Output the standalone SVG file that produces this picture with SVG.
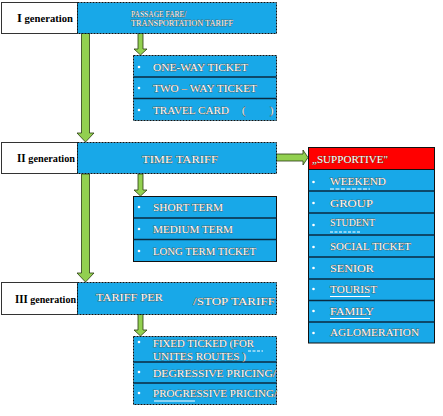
<svg xmlns="http://www.w3.org/2000/svg" width="443" height="416" viewBox="0 0 443 416">
<style>
.gen{fill:#fff;stroke:#333;stroke-width:1}
.blue{fill:#18A8E8;stroke:#111;stroke-width:1;stroke-dasharray:2 1}
.list{fill:#18A8E8;stroke:#111;stroke-width:1}
.div{stroke:#0a2a40;stroke-width:1.5}
.red{fill:#FF0000;stroke:#111;stroke-width:1}
.gt{font-family:"Liberation Serif",serif;font-weight:bold;font-size:11px;fill:#000}
.t{font-family:"Liberation Serif",serif;font-size:10px;fill:#fff;stroke:#5a3a1a;stroke-width:0.5;paint-order:stroke}
.ts{font-family:"Liberation Serif",serif;font-size:7.5px;fill:#fff;stroke:#5a3a1a;stroke-width:0.4;paint-order:stroke}
.b{fill:#fff}
.arr{fill:#92D050;stroke:#2a3a10;stroke-width:0.8}
.ul{stroke:#fff;stroke-width:1}
</style>

<g id="connectors">
  <path class="arr" d="M81.5,33 H89.5 V133 H94 L85.5,142 L77,133 H81.5 Z"/>
  <path class="arr" d="M81.5,174 H89.5 V273 H94 L85.5,282 L77,273 H81.5 Z"/>
  <path class="arr" d="M138,33 H143 V49 H147 L140.5,55 L134,49 H138 Z"/>
  <path class="arr" d="M138,174 H143 V190 H147 L140.5,196 L134,190 H138 Z"/>
  <path class="arr" d="M138,314 H143 V330 H147 L140.5,336 L134,330 H138 Z"/>
  <path class="arr" d="M276,154 H303 V150 L308,157.5 L303,165 V161 H276 Z"/>
</g>

<g id="gen1">
  <rect class="gen" x="1.5" y="2.5" width="76" height="31"/>
  <text class="gt" x="17" y="22" textLength="56" lengthAdjust="spacingAndGlyphs"><tspan font-size="13">I</tspan> generation</text>
</g>
<g id="tariff1">
  <rect class="blue" x="77.5" y="2.5" width="199" height="31"/>
  <text class="ts" x="131" y="17">PASSAGE FARE/</text>
  <text class="ts" x="131" y="26" textLength="102" lengthAdjust="spacingAndGlyphs">TRANSPORTATION TARIFF</text>
</g>
<g id="list1">
  <rect class="blue" x="133.5" y="55.5" width="143" height="65"/>
  <line class="div" x1="133.5" y1="77" x2="276.5" y2="77"/>
  <line class="div" x1="133.5" y1="98.5" x2="276.5" y2="98.5"/>
  <circle class="b" cx="139" cy="67" r="1.3"/>
  <circle class="b" cx="139" cy="88" r="1.3"/>
  <circle class="b" cx="139" cy="110" r="1.3"/>
  <text class="t" x="153" y="71" textLength="95" lengthAdjust="spacingAndGlyphs">ONE-WAY TICKET</text>
  <text class="t" x="153" y="92" textLength="104" lengthAdjust="spacingAndGlyphs">TWO – WAY TICKET</text>
  <text class="t" x="153" y="114" textLength="76" lengthAdjust="spacingAndGlyphs">TRAVEL CARD</text>
  <text class="t" x="242" y="114">(</text>
  <text class="t" x="270" y="114">)</text>
</g>

<g id="gen2">
  <rect class="gen" x="1.5" y="142.5" width="76" height="31"/>
  <text class="gt" x="17" y="162" textLength="58" lengthAdjust="spacingAndGlyphs"><tspan font-size="12">II</tspan> generation</text>
</g>
<g id="tariff2">
  <rect class="blue" x="77.5" y="142.5" width="199" height="31"/>
  <text class="t" x="180" y="163" text-anchor="middle" font-size="11" textLength="76" lengthAdjust="spacingAndGlyphs">TIME TARIFF</text>
</g>
<g id="list2">
  <rect class="list" x="133.5" y="196.5" width="143" height="65"/>
  <line class="div" x1="133.5" y1="218" x2="276.5" y2="218"/>
  <line class="div" x1="133.5" y1="239.5" x2="276.5" y2="239.5"/>
  <circle class="b" cx="139" cy="207" r="1.3"/>
  <circle class="b" cx="139" cy="229" r="1.3"/>
  <circle class="b" cx="139" cy="251" r="1.3"/>
  <text class="t" x="153" y="211" textLength="70" lengthAdjust="spacingAndGlyphs">SHORT TERM</text>
  <text class="t" x="153" y="233" textLength="80" lengthAdjust="spacingAndGlyphs">MEDIUM TERM</text>
  <text class="t" x="153" y="255" textLength="103" lengthAdjust="spacingAndGlyphs">LONG TERM TICKET</text>
</g>

<g id="gen3">
  <rect class="gen" x="1.5" y="282.5" width="76" height="32"/>
  <text class="gt" x="15" y="303" textLength="61" lengthAdjust="spacingAndGlyphs"><tspan font-size="12">III</tspan> generation</text>
</g>
<g id="tariff3">
  <rect class="blue" x="77.5" y="282.5" width="199" height="32"/>
  <text class="t" x="96" y="301" font-size="11" textLength="67" lengthAdjust="spacingAndGlyphs">TARIFF PER</text>
  <text class="t" x="193" y="305" font-size="11" textLength="82" lengthAdjust="spacingAndGlyphs">/STOP TARIFF</text>
</g>
<g id="list3">
  <rect class="blue" x="133.5" y="336.5" width="143" height="68"/>
  <line class="div" x1="133.5" y1="362" x2="276.5" y2="362"/>
  <line class="div" x1="133.5" y1="383" x2="276.5" y2="383"/>
  <circle class="b" cx="139" cy="342" r="1.3"/>
  <circle class="b" cx="139" cy="372" r="1.3"/>
  <circle class="b" cx="139" cy="393" r="1.3"/>
  <text class="t" x="153" y="347" textLength="101" lengthAdjust="spacingAndGlyphs">FIXED TICKED (FOR</text>
  <text class="t" x="153" y="360" textLength="93" lengthAdjust="spacingAndGlyphs">UNITES ROUTES  )</text>
  <line class="ul" x1="248" y1="351" x2="263" y2="351" stroke-dasharray="3 1.5"/>
  <text class="t" x="153" y="377" textLength="123" lengthAdjust="spacingAndGlyphs">DEGRESSIVE PRICING/</text>
  <text class="t" x="153" y="397" textLength="124" lengthAdjust="spacingAndGlyphs">PROGRESSIVE PRICING/</text>
  <line class="ul" x1="154" y1="401" x2="195" y2="401"/>
</g>

<g id="supportive">
  <rect class="red" x="308.5" y="147.5" width="126" height="22"/>
  <text class="t" x="312" y="163" font-size="11" textLength="76" lengthAdjust="spacingAndGlyphs">„SUPPORTIVE"</text>
  <rect class="list" x="308.5" y="169.5" width="126" height="173.5"/>
  <line class="div" x1="308.5" y1="191" x2="434.5" y2="191"/>
  <line class="div" x1="308.5" y1="213" x2="434.5" y2="213"/>
  <line class="div" x1="308.5" y1="235" x2="434.5" y2="235"/>
  <line class="div" x1="308.5" y1="257" x2="434.5" y2="257"/>
  <line class="div" x1="308.5" y1="279" x2="434.5" y2="279"/>
  <line class="div" x1="308.5" y1="300.5" x2="434.5" y2="300.5"/>
  <line class="div" x1="308.5" y1="322" x2="434.5" y2="322"/>
  <circle class="b" cx="313.5" cy="182" r="1.3"/>
  <circle class="b" cx="313.5" cy="203" r="1.3"/>
  <circle class="b" cx="313.5" cy="225" r="1.3"/>
  <circle class="b" cx="313.5" cy="247" r="1.3"/>
  <circle class="b" cx="313.5" cy="268" r="1.3"/>
  <circle class="b" cx="313.5" cy="289" r="1.3"/>
  <circle class="b" cx="313.5" cy="311" r="1.3"/>
  <circle class="b" cx="313.5" cy="333" r="1.3"/>
  <text class="t" x="330" y="185" textLength="56" lengthAdjust="spacingAndGlyphs">WEEKEND</text>
  <line class="ul" x1="330" y1="189" x2="370" y2="189" stroke-dasharray="4 1.5"/>
  <text class="t" x="330" y="207" textLength="43" lengthAdjust="spacingAndGlyphs">GROUP</text>
  <text class="t" x="330" y="226" textLength="45" lengthAdjust="spacingAndGlyphs">STUDENT</text>
  <line class="ul" x1="330" y1="232" x2="360" y2="232" stroke-dasharray="3 1.5"/>
  <text class="t" x="330" y="250" textLength="81" lengthAdjust="spacingAndGlyphs">SOCIAL TICKET</text>
  <text class="t" x="330" y="272" textLength="44" lengthAdjust="spacingAndGlyphs">SENIOR</text>
  <text class="t" x="330" y="293" textLength="47" lengthAdjust="spacingAndGlyphs">TOURIST</text>
  <line class="ul" x1="330" y1="296.5" x2="370" y2="296.5"/>
  <text class="t" x="330" y="315" textLength="44" lengthAdjust="spacingAndGlyphs">FAMILY</text>
  <line class="ul" x1="330" y1="318.5" x2="370" y2="318.5"/>
  <text class="t" x="330" y="336" textLength="89" lengthAdjust="spacingAndGlyphs">AGLOMERATION</text>
</g>
</svg>
